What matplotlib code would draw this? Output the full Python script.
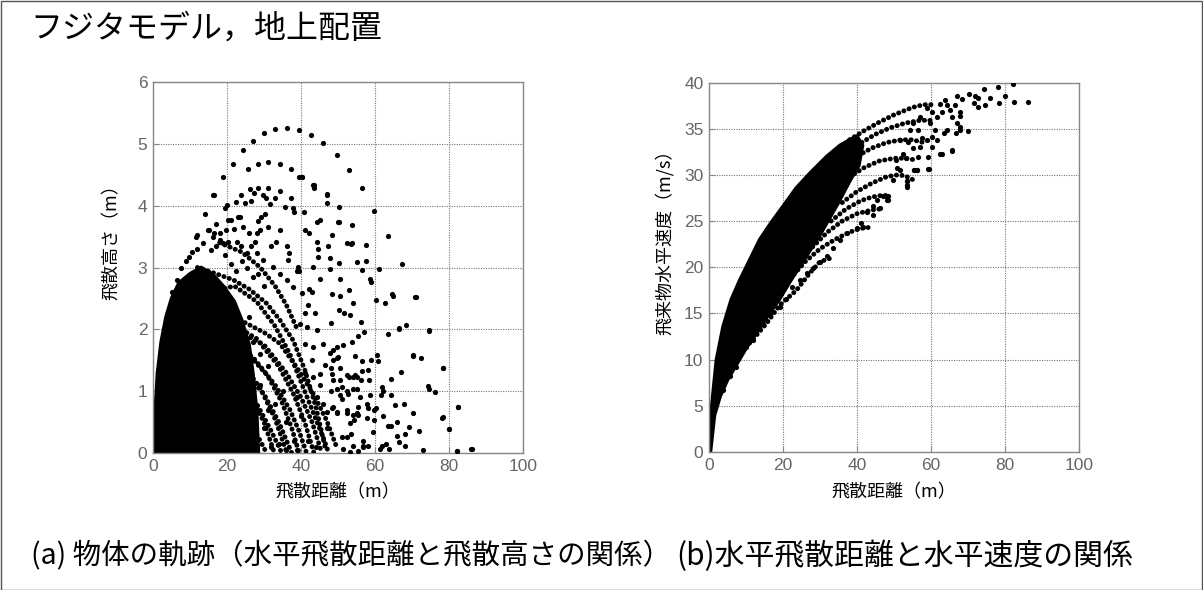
import matplotlib
matplotlib.use("Agg")
import matplotlib.pyplot as plt
from matplotlib.patches import Rectangle

plt.rcParams['font.family'] = ['Noto Sans CJK JP', 'DejaVu Sans']

# ---------------- text ----------------
title = "フジタモデル，地上配置"
caption_a = "(a) 物体の軌跡（水平飛散距離と飛散高さの関係）"
caption_b = "(b)水平飛散距離と水平速度の関係"
xlabel = "飛散距離（m）"
ylabel_a = "飛散高さ（m）"
ylabel_b = "飛来物水平速度（m/s）"

xticks = [0, 20, 40, 60, 80, 100]
yticks_a = [0, 1, 2, 3, 4, 5, 6]
yticks_b = [0, 5, 10, 15, 20, 25, 30, 35, 40]

# ---------------- panel (a) data ----------------
# dense (solid black) core region outline
core_a_x = [0, 0.5, 1.2, 2.2, 3.5, 5.0, 7.0, 10.0, 13.0, 16.0, 19.0, 22.0, 24.0,
            26.0, 27.0, 28.0, 28.5]
core_a_y = [0, 0.6, 1.3, 1.8, 2.2, 2.5, 2.75, 2.9, 3.0, 2.9, 2.7, 2.45, 2.15,
            1.75, 1.3, 0.7, 0]

# trajectory arcs seen as chains of dots
arcs_a_x = [
    [12, 17, 21.7, 26, 30.7, 34.3, 37.9, 41, 44, 46.5],
    [18, 24, 29, 33, 36, 39],
    [15, 22, 28, 33, 37, 40, 43, 46, 47.5],
    [16, 23.5, 30, 34.3, 38.8, 43.3, 46.9, 49.6],
    [15, 22, 30, 36, 40, 43, 45.6],
    [14, 21, 28, 34, 38, 41, 43.5],
    [14, 20, 27, 33, 37, 39.5, 41.5],
    [13, 19, 25, 31, 35, 37.5, 39.5],
    [12, 18, 24, 30, 34, 37.5],
    [12, 18, 24, 29, 33, 36.2],
    [11, 16, 22, 28, 32, 34.8],
    [11, 16, 21, 26, 30, 32.8],
    [10, 15, 20, 25, 28.5, 30.7],
]
arcs_a_y = [
    [3.0, 2.9, 2.8, 2.65, 2.42, 2.15, 1.82, 1.35, 0.75, 0.1],
    [3.4, 3.25, 3.0, 2.7, 2.4, 2.0],
    [2.6, 2.7, 2.45, 2.05, 1.6, 1.15, 0.7, 0.25, 0],
    [2.2, 2.15, 1.95, 1.77, 1.39, 0.96, 0.53, 0.1],
    [1.9, 2.0, 1.75, 1.3, 0.9, 0.5, 0],
    [2.05, 2.1, 1.85, 1.4, 0.95, 0.5, 0],
    [1.7, 1.8, 1.55, 1.1, 0.7, 0.35, 0],
    [1.8, 1.85, 1.65, 1.25, 0.8, 0.4, 0],
    [1.5, 1.55, 1.35, 0.95, 0.5, 0],
    [1.6, 1.65, 1.45, 1.05, 0.55, 0],
    [1.3, 1.35, 1.2, 0.8, 0.35, 0],
    [1.4, 1.45, 1.3, 0.95, 0.5, 0],
    [1.1, 1.1, 0.95, 0.6, 0.25, 0],
]

# individual points
pts_a_x = [
    # highest trajectory
    24.2, 27.1, 30.0, 32.9, 36.1, 39.4, 42.6, 46.0, 49.6, 52.9, 56.5, 59.8, 63.4,
    67.2, 70.8, 74.5, 78.5, 82.3, 85.9, 21.5, 19.0, 16.2, 14.0, 11.9, 9.7,
    # second trajectory
    25.7, 28.4, 31.1, 34.3, 37.2, 40.3, 43.6, 46.9, 50.1, 53.4, 57.5, 61.0, 64.7,
    66.6, 70.4, 74.5, 78.3, 80.0, 82.1,
    # scattered far points
    64.8, 71.0, 62.8, 60.2, 66.6, 68.4, 74.7, 63.4, 70.4, 72.4, 78.4, 66.9, 64.3,
    74.2, 76.1, 82.4, 61.9, 62.2, 64.3, 65.4, 67.9, 70.4, 78.2, 80.0, 60.3, 59.7,
    62.2, 65.9, 63.4, 64.3, 69.1, 71.9, 68.1, 65.9, 66.5, 68.1, 73.1, 82.1, 86.1,
    59.7, 59.4, 61.8, 63.0, 63.9, 61.4, 58.2, 56.7, 56.7, 55.5, 60.6, 60.8, 58.9,
    58.0, 56.6, 54.6, 61.6, 58.7, 58.5, 56.2, 56.6, 55.1, 54.1, 52.3, 51.0, 56.0,
    58.2, 57.8, 54.1, 53.2, 55.5, 56.2, 56.9, 55.5, 53.2, 51.7, 50.3, 54.1, 53.0,
    50.5, 48.3, 58.9, 48.0, 53.7, 51.4, 49.6, 48.7, 49.6, 50.5, 48.0, 53.0, 54.1,
    51.0, 49.6, 48.7, 52.3, 55.1, 49.6, 48.3, 53.4, 52.3, 51.0, 54.0, 56.8, 53.2,
    51.4,
    # upper middle region
    16.4, 19.9, 19.4, 22.3, 23.0, 23.9, 24.8, 26.1, 26.6, 27.3, 28.4, 29.8, 30.5,
    31.1, 31.6, 32.9, 34.3, 35.6, 39.5, 40.4, 43.3, 43.5, 47.0, 46.9, 37.3, 37.9,
    38.2, 40.9, 41.2, 42.2, 44.2, 45.1, 48.3, 50.4, 50.4, 53.7, 52.5, 53.7, 55.2,
    56.4, 57.6, 58.7, 50.3, 50.5, 44.2, 44.5, 44.7, 47.4, 47.8, 47.8, 43.3, 45.1,
    42.2, 42.9, 39.3, 38.8, 39.5, 36.1, 36.7, 36.4, 34.3, 33.2, 32.0, 31.0, 30.3,
    29.3, 28.5, 28.9, 28.0, 27.5, 26.6, 26.0, 24.4, 23.5, 21.9, 21.2, 20.3, 19.7,
    18.1, 17.1, 16.2, 14.9, 11.7, 15.8, 17.1, 19.0, 20.3, 22.6, 23.9, 25.3, 28.0,
    29.8, 32.5, 34.3, 36.1, 37.9, 40.2, 41.9, 43.8, 41.1, 39.7, 41.5, 44.2, 46.0,
    43.3, 41.1, 47.8, 48.7, 46.5, 45.1, 43.3, 48.3, 50.1, 50.5, 52.3, 54.6, 55.1,
    52.8, 50.5, 48.7, 52.3, 55.5, 57.8, 54.2, 49.6, 46.9, 44.2,
    # ragged edge of the core
    5.0, 6.5, 7.5, 9.0, 10.5, 12.0, 13.5, 15.0, 16.5, 18.0, 19.5, 21.0, 22.5,
    24.0, 25.5, 27.0, 28.5, 30.0,
    # within the semi-dense fan
    20, 22, 24, 26, 27, 29, 31, 25, 27, 29, 31, 33, 35, 36, 38, 39, 40, 42, 44,
    24, 26, 28, 30, 32, 34, 36, 39, 41, 43, 45, 46, 47, 48, 21, 22, 23,
]
pts_a_y = [
    4.90, 5.05, 5.18, 5.24, 5.26, 5.22, 5.14, 5.02, 4.82, 4.57, 4.28, 3.92, 3.51,
    3.05, 2.53, 1.99, 1.38, 0.74, 0.07, 4.68, 4.46, 4.18, 3.86, 3.52, 3.17,
    4.59, 4.67, 4.71, 4.68, 4.60, 4.47, 4.33, 4.19, 3.74, 3.38, 3.10, 2.97, 2.57,
    2.02, 1.58, 1.04, 0.58, 0.39, 0.04,
    2.54, 2.52, 2.42, 2.47, 2.01, 2.07, 1.97, 1.92, 1.57, 1.54, 1.38, 1.31, 1.20,
    1.08, 0.99, 0.74, 1.07, 1.00, 0.93, 0.77, 0.79, 0.64, 0.57, 0.39, 0.73, 0.69,
    0.60, 0.50, 0.44, 0.44, 0.42, 0.35, 0.31, 0.27, 0.17, 0.11, 0.05, 0.04, 0.07,
    0.53, 0.34, 0.12, 0.15, 0.07, 0.07, 0.12, 0.19, 0.11, 0.04, 1.58, 1.49, 1.50,
    1.34, 1.49, 1.57, 0.93, 0.93, 1.18, 1.18, 1.33, 1.23, 1.04, 1.01, 0.87, 0.91,
    0.72, 0.56, 0.61, 0.48, 0.61, 2.12, 1.96, 1.89, 2.23, 2.26, 2.32, 2.43, 2.63,
    2.54, 2.57, 2.77, 2.11, 1.80, 1.74, 1.72, 1.66, 1.54, 1.38, 1.38, 1.23, 1.23,
    1.07, 1.04, 1.18, 0.69, 0.65, 0.66, 0.72, 0.31, 0.26, 0.26, 0.12, 0.10, 0.02,
    0.07,
    4.18, 4.01, 3.96, 4.06, 3.82, 4.17, 4.04, 4.27, 4.07, 4.21, 4.28, 4.18, 4.12,
    4.29, 4.03, 4.12, 4.23, 3.98, 4.47, 4.47, 4.33, 4.28, 4.18, 4.05, 4.13, 3.96,
    3.90, 3.90, 3.60, 3.55, 3.74, 3.77, 3.52, 3.74, 3.98, 3.69, 3.39, 3.40, 3.09,
    2.96, 3.36, 2.81, 3.07, 2.82, 3.42, 3.30, 3.17, 3.34, 3.15, 2.98, 3.01, 2.82,
    2.66, 2.61, 3.01, 2.95, 2.95, 3.34, 3.23, 3.12, 3.60, 3.42, 3.34, 3.66, 3.87,
    3.82, 3.75, 3.60, 3.55, 3.42, 3.34, 3.55, 3.66, 3.82, 3.63, 3.77, 3.77, 3.60,
    3.55, 3.71, 3.50, 3.60, 3.50, 3.28, 3.34, 3.39, 3.42, 3.42, 3.34, 3.23, 3.23,
    3.12, 3.01, 2.90, 2.80, 2.69, 2.58, 2.39, 2.26, 2.26, 2.09, 2.04, 1.99, 1.77,
    1.72, 1.77, 1.61, 1.50, 1.42, 1.28, 1.23, 1.28, 1.55, 1.18, 1.26, 1.26, 1.04,
    0.96, 0.93, 0.74, 0.64, 0.74, 0.80, 0.53, 0.64, 0.66, 0.91,
    2.6, 2.8, 3.0, 3.1, 3.25, 3.3, 3.4, 3.6, 3.55, 3.45, 3.2, 3.05, 2.95,
    3.1, 3.0, 2.85, 2.9, 2.7,
    2.3, 2.1, 1.9, 2.2, 1.8, 1.6, 1.4, 1.2, 0.9, 1.1, 0.7, 0.8, 1.0, 0.5, 0.2,
    0.9, 0.6, 0.2, 0.1, 0.4, 0.3, 0.1, 0.4, 0.1, 0.15, 0.05, 0.05, 1.3, 1.5, 1.1,
    0.8, 0.4, 1.0, 0.2, 1.4, 0.8,
]

# ---------------- panel (b) data ----------------
core_b_x = [0, 0.6, 2.0, 3.8, 6.0, 8.3, 11.0, 13.7, 16.9, 20.0, 23.6, 27.3, 31.8,
            35.4, 38.0, 40.0, 41.5, 40.5, 38.0, 35.0, 30.0, 26.0, 22.0, 19.0,
            16.0, 13.0, 10.0, 7.5, 5.0, 3.0, 1.5, 0.4]
core_b_y = [0, 4.5, 10.0, 13.6, 16.5, 18.6, 20.8, 23.0, 24.9, 26.6, 28.6, 30.2,
            32.0, 33.2, 33.8, 34.2, 33.2, 31.0, 29.3, 27.0, 23.5, 21.0, 18.5, 16.5,
            14.8, 13.0, 11.2, 9.5, 7.8, 6.0, 4.0, 0]

chains_b_x = [
    [11.0, 15.5, 19.1, 23.6, 27.3, 30.0, 33.0],
    [22, 26, 30, 34, 38, 41, 43],
    [28, 32, 36, 40, 44, 46],
    [33, 37, 41, 44, 47, 49],
    [36, 40, 44, 48, 51, 53, 55],
    [38, 42, 46, 50, 53, 56],
    [39, 44, 48, 52, 55, 58],
    [40, 45, 49, 53, 57, 60],
    [38, 42, 46, 50, 55, 58, 60],
]
chains_b_y = [
    [11.8, 13.9, 15.9, 17.5, 19.4, 20.6, 21.0],
    [18.8, 20.6, 22.0, 23.0, 23.8, 24.2, 24.3],
    [22.2, 23.8, 25.0, 25.8, 26.2, 26.3],
    [25.0, 26.3, 27.2, 27.6, 27.8, 27.7],
    [27.0, 28.2, 29.1, 29.8, 30.0, 29.9, 29.5],
    [29.8, 30.8, 31.5, 31.8, 31.8, 31.6],
    [31.8, 32.9, 33.5, 33.8, 33.8, 33.5],
    [33.2, 34.4, 35.1, 35.6, 35.9, 35.9],
    [33.8, 34.8, 35.7, 36.5, 37.3, 37.6, 37.6],
]

pts_b_x = [
    82.1, 78.2, 74.4, 80.0, 82.3, 86.1, 78.3, 74.6, 76.0, 72.8, 72.0, 70.4, 71.5,
    72.8, 68.3, 67.0, 66.5, 67.9, 63.8, 64.4, 65.2, 62.5, 62.9, 67.9, 65.6, 67.0,
    67.9, 70.1, 66.8, 64.3, 63.4, 61.7, 60.2, 62.5, 65.6, 59.3, 59.3, 56.6, 56.1,
    55.3, 53.4, 53.4, 53.3, 57.0, 58.9, 60.2, 61.1, 59.8, 61.6, 60.2, 58.9, 57.0,
    55.2, 54.3, 56.6, 57.5, 55.2, 53.9, 51.6, 52.5, 50.5, 50.7, 49.8, 51.6, 48.0,
    48.5, 46.2, 41.7, 44.4,
    59.4, 56.3, 55.4, 53.4, 53.4, 48.0, 48.5, 45.5, 41.2, 39.9, 37.2, 35.4, 33.6,
    31.8, 30.0, 28.2, 26.4, 24.5, 22.3, 20.9, 19.1, 16.4, 14.6, 11.9, 10.1, 7.4,
    5.6, 3.8, 42.6, 44.4, 47.1, 65.6, 62.9, 67.9,
]
pts_b_y = [
    39.8, 39.5, 39.3, 38.5, 37.9, 37.9, 37.8, 37.6, 38.3, 38.3, 38.5, 38.8, 37.8,
    37.4, 38.2, 38.5, 37.6, 36.8, 38.1, 37.6, 37.0, 37.7, 36.8, 36.4, 36.3, 35.6,
    35.2, 34.7, 34.5, 34.9, 34.5, 33.8, 33.0, 32.3, 32.6, 31.9, 30.6, 31.9, 30.5,
    30.5, 29.3, 28.7, 31.8, 33.0, 33.8, 34.1, 34.9, 35.6, 36.3, 36.8, 37.2, 36.3,
    35.6, 34.9, 34.9, 34.0, 32.9, 33.6, 33.8, 32.3, 31.6, 30.7, 29.4, 30.5, 27.6,
    27.3, 26.4, 24.4, 25.7,
    30.6, 30.5, 30.5, 28.9, 29.3, 27.3, 27.7, 27.3, 24.8, 24.2, 23.7, 23.0, 22.1,
    21.2, 20.6, 19.9, 19.4, 18.6, 17.9, 16.6, 15.7, 15.0, 13.9, 12.1, 11.4, 9.2,
    8.2, 6.7, 26.0, 26.6, 27.7, 32.7, 32.3, 34.9,
]

# ---------------- drawing ----------------
W, H = 1203, 590
fig = plt.figure(figsize=(W / 100, H / 100), dpi=100)
fig.patch.set_facecolor('white')
fig.patches.append(Rectangle((0.5 / W, 0.5 / H), 1 - 1.5 / W, 1 - 1.5 / H,
                             transform=fig.transFigure, fill=False,
                             edgecolor='#555555', linewidth=1.0))

tick_color = '#666666'
MS = 14      # scatter marker area
DOT_LW = 3.5


def style_axes(ax, yticks, ymax):
    ax.set_xlim(0, 100)
    ax.set_ylim(0, ymax)
    ax.set_xticks(xticks)
    ax.set_yticks(yticks)
    ax.set_axisbelow(True)
    ax.grid(True, linestyle=(0, (1, 1.2)), color='#777777', linewidth=0.8)
    for s in ax.spines.values():
        s.set_color('#888888')
        s.set_linewidth(1.0)
    ax.tick_params(direction='in', length=4, width=0.8, color='#888888',
                   labelcolor=tick_color, pad=4)
    for lab in ax.get_xticklabels() + ax.get_yticklabels():
        lab.set_fontfamily('Liberation Sans')
        lab.set_fontsize(12.5)


def draw_dots(ax, core_x, core_y, arcs_x, arcs_y, px, py):
    ax.fill(core_x, core_y, color='black', lw=2.5, zorder=2)
    for xs, ys in zip(arcs_x, arcs_y):
        ax.plot(xs, ys, color='black', lw=DOT_LW, linestyle=(0, (0.05, 1.1)),
                dash_capstyle='round', solid_capstyle='round', zorder=3)
    ax.scatter(px, py, s=MS, color='black', linewidths=0, zorder=4)


# panel (a)
ax1 = fig.add_axes([153 / W, 1 - 453 / H, 370 / W, 371 / H])
draw_dots(ax1, core_a_x, core_a_y, arcs_a_x, arcs_a_y, pts_a_x, pts_a_y)
style_axes(ax1, yticks_a, 6)

# panel (b)
ax2 = fig.add_axes([709 / W, 1 - 452 / H, 370 / W, 369.5 / H])
draw_dots(ax2, core_b_x, core_b_y, chains_b_x, chains_b_y, pts_b_x, pts_b_y)
style_axes(ax2, yticks_b, 40)

# axis labels
fig.text(338 / W, 1 - 492 / H, xlabel, ha='center', va='center', fontsize=13)
fig.text(894 / W, 1 - 492 / H, xlabel, ha='center', va='center', fontsize=13)
fig.text(112 / W, 1 - 238 / H, ylabel_a, ha='center', va='center', fontsize=13,
         rotation=90)
fig.text(664 / W, 1 - 238 / H, ylabel_b, ha='center', va='center', fontsize=13,
         rotation=90)

# title and captions
fig.text(30 / W, 1 - 29 / H, title, ha='left', va='center', fontsize=23)
fig.text(31 / W, 1 - 556 / H, caption_a, ha='left', va='center', fontsize=20.5)
fig.text(676 / W, 1 - 556 / H, caption_b, ha='left', va='center', fontsize=21.5)

fig.savefig('out.png', dpi=100, facecolor='white')
